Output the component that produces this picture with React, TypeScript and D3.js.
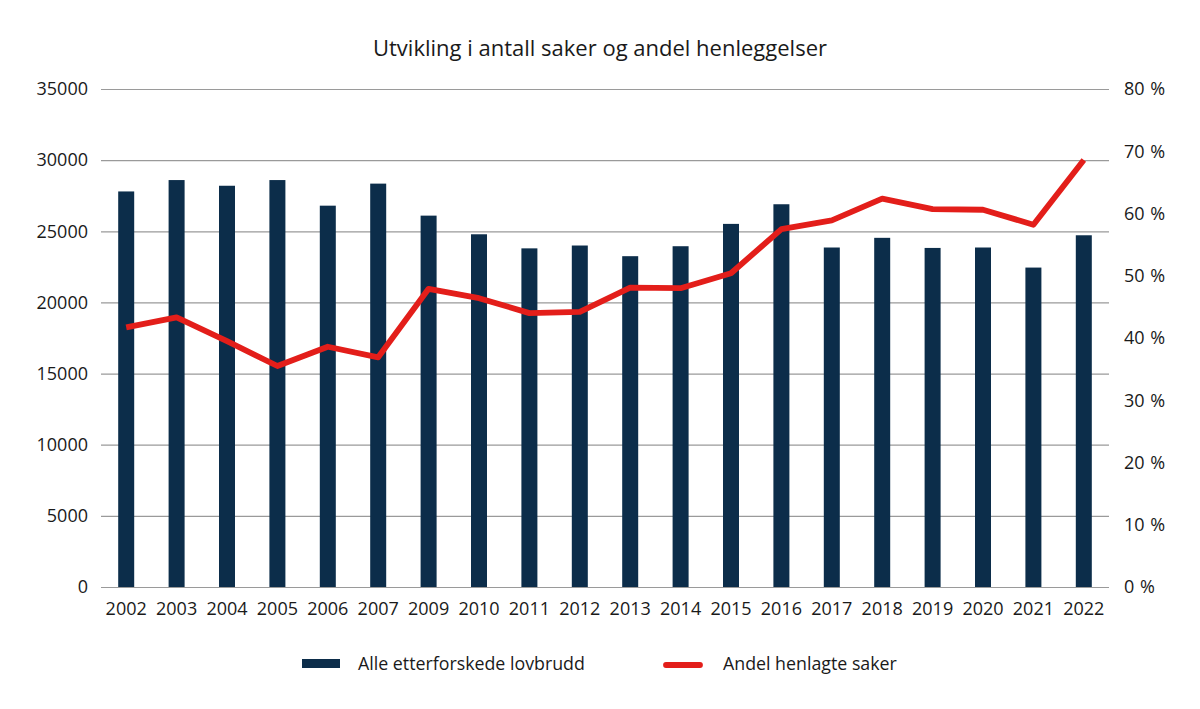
import { useEffect, useRef } from "react";
import * as d3 from "d3";

const years = ["2002", "2003", "2004", "2005", "2006", "2007", "2009", "2010", "2011", "2012", "2013", "2014", "2015", "2016", "2017", "2018", "2019", "2020", "2021", "2022"];
const cases = [27800, 28600, 28200, 28600, 26800, 28350, 26100, 24790, 23800, 24000, 23250, 23950, 25520, 26900, 23860, 24540, 23830, 23860, 22450, 24720];
const dismissedShare = [41.7, 43.3, 39.5, 35.5, 38.6, 36.9, 47.9, 46.4, 44.0, 44.2, 48.1, 48.0, 50.4, 57.5, 58.9, 62.4, 60.7, 60.6, 58.2, 68.6];
const leftTicks = [0, 5000, 10000, 15000, 20000, 25000, 30000, 35000];
const rightTicks = [0, 10, 20, 30, 40, 50, 60, 70, 80];

const title = "Utvikling i antall saker og andel henleggelser";
const barLabel = "Alle etterforskede lovbrudd";
const lineLabel = "Andel henlagte saker";

const App = () => {
  const ref = useRef<SVGSVGElement>(null);

  useEffect(() => {
    draw();
  }, []);

  const draw = () => {
    const width = 1200;
    const height = 709;
    const margin = { top: 89, right: 91, bottom: 122, left: 101 };
    const font = "'Open Sans', sans-serif";
    const barColor = "#0c2d4a";
    const lineColor = "#e31e1a";
    const textColor = "#1a1a1a";

    const svg = d3.select(ref.current);
    svg.selectAll("*").remove();
    svg.attr("width", width).attr("height", height).style("font-family", font);

    // one band per year across the full plot width
    const xScale = d3
      .scaleBand()
      .domain(years)
      .range([margin.left, width - margin.right])
      .padding(0);

    const yLeft = d3
      .scaleLinear()
      .domain([0, 35000])
      .range([height - margin.bottom, margin.top]);

    const yRight = d3
      .scaleLinear()
      .domain([0, 80])
      .range([height - margin.bottom, margin.top]);

    const cx = (y: string) => (xScale(y) as number) + xScale.bandwidth() / 2;

    // gridlines
    svg
      .append("g")
      .selectAll("line")
      .data(leftTicks)
      .join("line")
      .attr("x1", margin.left)
      .attr("x2", width - margin.right)
      .attr("y1", (d) => yLeft(d) + 0.5)
      .attr("y2", (d) => yLeft(d) + 0.5)
      .attr("stroke", "#9a9a9a")
      .attr("stroke-width", 1.2);

    // left axis labels
    svg
      .append("g")
      .selectAll("text")
      .data(leftTicks)
      .join("text")
      .attr("x", 88)
      .attr("y", (d) => yLeft(d))
      .attr("dy", "0.35em")
      .attr("text-anchor", "end")
      .attr("font-size", 18)
      .attr("fill", textColor)
      .text((d) => String(d));

    // right axis labels
    svg
      .append("g")
      .selectAll("text")
      .data(rightTicks)
      .join("text")
      .attr("x", 1124)
      .attr("y", (d) => yRight(d))
      .attr("dy", "0.35em")
      .attr("text-anchor", "start")
      .attr("font-size", 18)
      .attr("word-spacing", 1)
      .attr("fill", textColor)
      .text((d) => `${d} %`);

    // bars
    const barW = 16;
    svg
      .append("g")
      .selectAll("rect")
      .data(cases)
      .join("rect")
      .attr("x", (d, i) => cx(years[i]) - barW / 2)
      .attr("y", (d) => yLeft(d))
      .attr("width", barW)
      .attr("height", (d) => yLeft(0) - yLeft(d))
      .attr("fill", barColor);

    // year labels
    svg
      .append("g")
      .selectAll("text")
      .data(years)
      .join("text")
      .attr("x", (d) => cx(d))
      .attr("y", 609)
      .attr("dy", "0.35em")
      .attr("text-anchor", "middle")
      .attr("font-size", 18)
      .attr("fill", textColor)
      .text((d) => d);

    // line
    const line = d3
      .line<number>()
      .x((d, i) => cx(years[i]))
      .y((d) => yRight(d));

    svg
      .append("path")
      .datum(dismissedShare)
      .attr("d", line)
      .attr("fill", "none")
      .attr("stroke", lineColor)
      .attr("stroke-width", 5.8)
      .attr("stroke-linejoin", "round")
      .attr("stroke-linecap", "butt");

    // title
    svg
      .append("text")
      .attr("x", 600)
      .attr("y", 48)
      .attr("dy", "0.35em")
      .attr("text-anchor", "middle")
      .attr("font-size", 22)
      .attr("fill", textColor)
      .text(title);

    // legend
    const legend = svg.append("g");
    legend
      .append("rect")
      .attr("x", 302)
      .attr("y", 659)
      .attr("width", 38)
      .attr("height", 9)
      .attr("fill", barColor);
    legend
      .append("text")
      .attr("x", 358)
      .attr("y", 664)
      .attr("dy", "0.35em")
      .attr("font-size", 17.8)
      .attr("fill", textColor)
      .text(barLabel);
    legend
      .append("line")
      .attr("x1", 666)
      .attr("x2", 700)
      .attr("y1", 665)
      .attr("y2", 665)
      .attr("stroke", lineColor)
      .attr("stroke-width", 5.8)
      .attr("stroke-linecap", "round");
    legend
      .append("text")
      .attr("x", 723)
      .attr("y", 664)
      .attr("dy", "0.35em")
      .attr("font-size", 17.8)
      .attr("fill", textColor)
      .text(lineLabel);
  };

  return (
    <div style={{ position: "absolute", left: 0, top: 0 }}>
      <svg ref={ref}></svg>
    </div>
  );
};

export default App;
